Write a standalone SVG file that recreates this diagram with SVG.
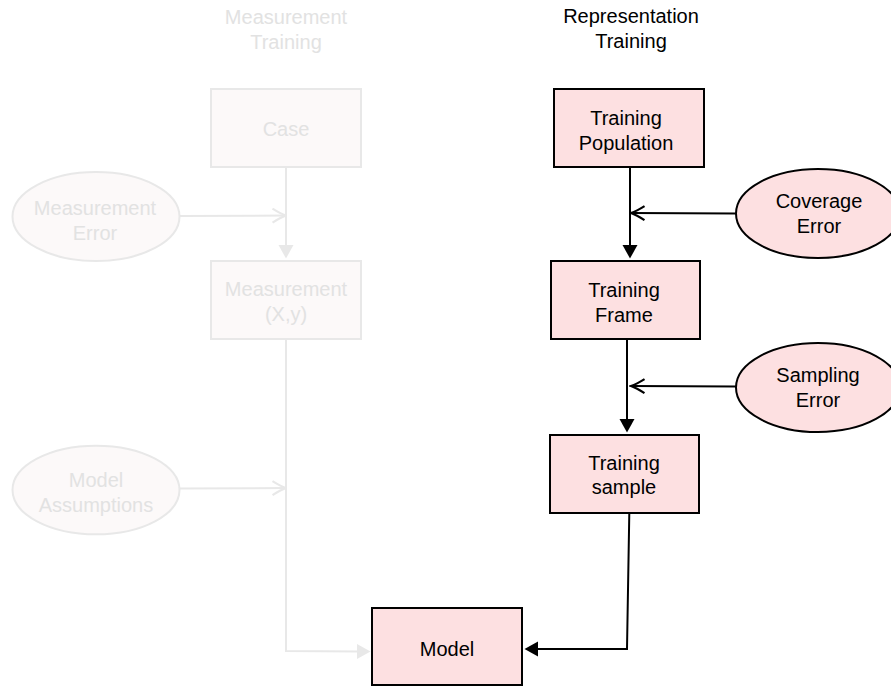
<svg xmlns="http://www.w3.org/2000/svg" width="891" height="686" viewBox="0 0 891 686">
  <style>
    text { font-family: "Liberation Sans", Arial, Helvetica, sans-serif; font-size: 20px; text-anchor: middle; }
    .lbl { fill: #000000; }
    .dim { fill: #e2e2e2; }
    .box { fill: #fde0e1; stroke: #000000; stroke-width: 2; }
    .boxdim { fill: #fcf9f9; stroke: #e8e8e8; stroke-width: 2; }
    .edge { fill: none; stroke: #000000; stroke-width: 2; }
    .edgedim { fill: none; stroke: #e8e8e8; stroke-width: 2; }
  </style>
  <defs>
    <!-- filled triangular head -->
    <marker id="tri" markerUnits="userSpaceOnUse" viewBox="0 0 14 16" refX="1" refY="8" markerWidth="14" markerHeight="16" orient="auto">
      <path d="M0,0.5 L13.5,8 L0,15.5 Z" fill="#000000"/>
    </marker>
    <marker id="triDim" markerUnits="userSpaceOnUse" viewBox="0 0 14 16" refX="1" refY="8" markerWidth="14" markerHeight="16" orient="auto">
      <path d="M0,0.5 L13.5,8 L0,15.5 Z" fill="#e8e8e8"/>
    </marker>
    <!-- open concave head -->
    <marker id="stick" markerUnits="userSpaceOnUse" viewBox="0 0 16 16" refX="14.5" refY="8" markerWidth="16" markerHeight="16" orient="auto">
      <path d="M1,1 Q9,6 14.5,8 Q9,10 1,15" fill="none" stroke="#000000" stroke-width="2.2"/>
    </marker>
    <marker id="stickDim" markerUnits="userSpaceOnUse" viewBox="0 0 16 16" refX="14.5" refY="8" markerWidth="16" markerHeight="16" orient="auto">
      <path d="M1,1 Q9,6 14.5,8 Q9,10 1,15" fill="none" stroke="#e8e8e8" stroke-width="2.2"/>
    </marker>
  </defs>

  <!-- column headings -->
  <g id="heading-measurement">
    <text class="dim" x="286" y="24">Measurement</text>
    <text class="dim" x="286" y="49">Training</text>
  </g>
  <g id="heading-representation">
    <text class="lbl" x="631" y="23">Representation</text>
    <text class="lbl" x="631" y="48">Training</text>
  </g>

  <!-- connectors -->
  <g id="connectors">
    <!-- measurement path (faded) -->
    <path class="edgedim" d="M286,168 L286,246" marker-end="url(#triDim)"/>
    <path class="edgedim" d="M180,216 L286,215.5" marker-end="url(#stickDim)"/>
    <path class="edgedim" d="M180,488.5 L286,488" marker-end="url(#stickDim)"/>
    <path class="edgedim" d="M286,340 L286,651 L358,651.5" marker-end="url(#triDim)"/>
    <!-- representation path -->
    <path class="edge" d="M630,168 L630,246" marker-end="url(#tri)"/>
    <path class="edge" d="M736,213.5 L631,213" marker-end="url(#stick)"/>
    <path class="edge" d="M627,340 L627,420" marker-end="url(#tri)"/>
    <path class="edge" d="M736,386.5 L631,386" marker-end="url(#stick)"/>
    <path class="edge" d="M629.3,513 L627,649 L537,649" marker-end="url(#tri)"/>
  </g>

  <!-- faded measurement nodes -->
  <g id="case">
    <rect class="boxdim" x="211" y="89" width="150" height="78"/>
    <text class="dim" x="286" y="136">Case</text>
  </g>
  <g id="measurement">
    <rect class="boxdim" x="211" y="261" width="150" height="78"/>
    <text class="dim" x="286" y="296">Measurement</text>
    <text class="dim" x="286" y="321">(X,y)</text>
  </g>
  <g id="measurement-error">
    <ellipse class="boxdim" cx="96" cy="216.5" rx="83.5" ry="44.5"/>
    <text class="dim" x="95" y="215">Measurement</text>
    <text class="dim" x="95" y="240">Error</text>
  </g>
  <g id="model-assumptions">
    <ellipse class="boxdim" cx="96" cy="490" rx="83.5" ry="44.3"/>
    <text class="dim" x="96" y="487">Model</text>
    <text class="dim" x="96" y="512">Assumptions</text>
  </g>

  <!-- representation nodes -->
  <g id="training-population">
    <rect class="box" x="554" y="89" width="150" height="78"/>
    <text class="lbl" x="626" y="125">Training</text>
    <text class="lbl" x="626" y="150">Population</text>
  </g>
  <g id="coverage-error">
    <ellipse class="box" cx="818" cy="213.5" rx="82" ry="44.5"/>
    <text class="lbl" x="819" y="208">Coverage</text>
    <text class="lbl" x="819" y="233">Error</text>
  </g>
  <g id="training-frame">
    <rect class="box" x="551" y="261" width="149" height="78"/>
    <text class="lbl" x="624" y="297">Training</text>
    <text class="lbl" x="624" y="322">Frame</text>
  </g>
  <g id="sampling-error">
    <ellipse class="box" cx="818" cy="387.5" rx="82" ry="44.5"/>
    <text class="lbl" x="818" y="382">Sampling</text>
    <text class="lbl" x="818" y="407">Error</text>
  </g>
  <g id="training-sample">
    <rect class="box" x="550" y="435" width="149" height="78"/>
    <text class="lbl" x="624" y="470">Training</text>
    <text class="lbl" x="624" y="494">sample</text>
  </g>
  <g id="model">
    <rect class="box" x="372" y="608" width="150" height="77"/>
    <text class="lbl" x="447" y="656">Model</text>
  </g>
</svg>
